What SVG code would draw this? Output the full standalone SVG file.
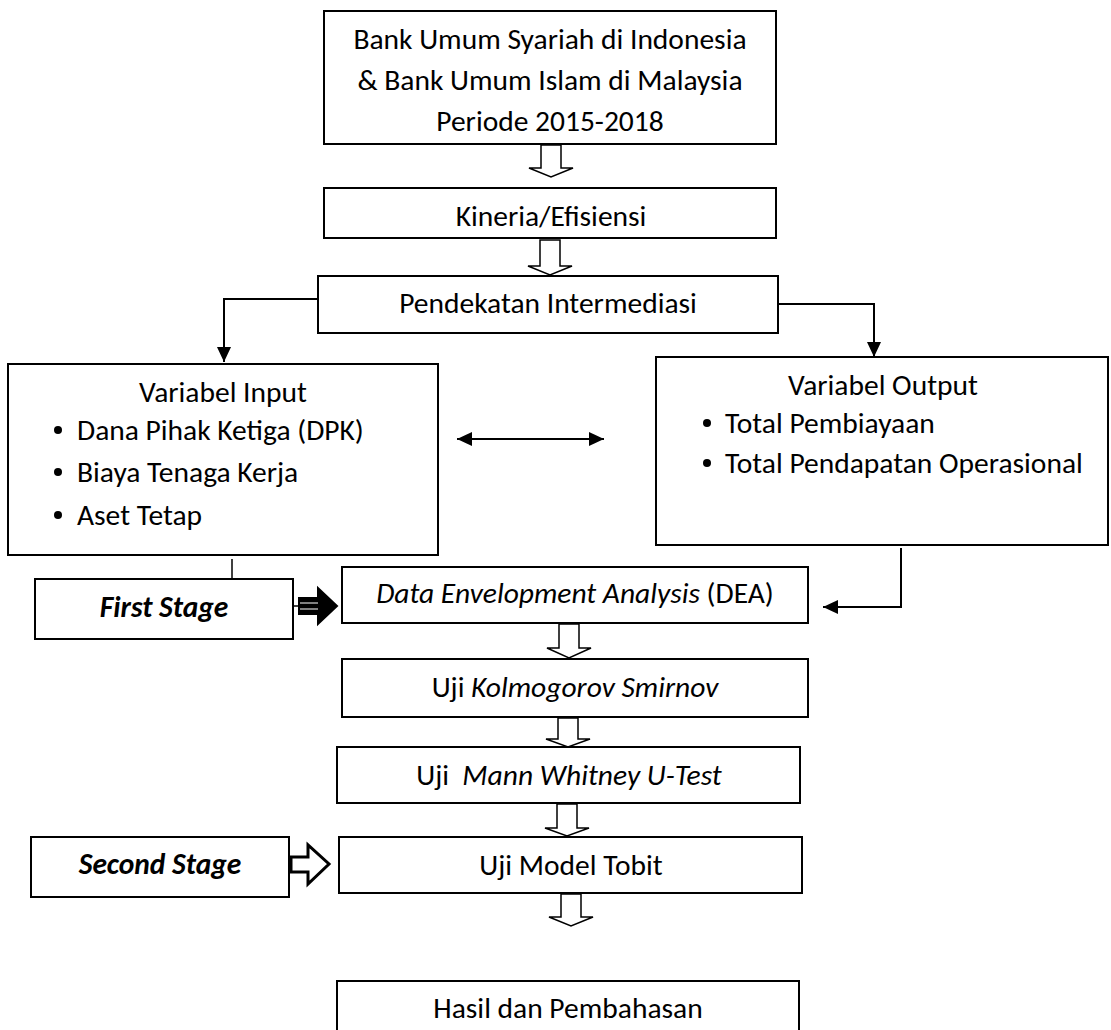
<svg xmlns="http://www.w3.org/2000/svg" width="1111" height="1030" viewBox="0 0 1111 1030">
<style>
text{font-family:Carlito,Lato,"Open Sans",sans-serif;font-size:29.5px;fill:#000}
.c{text-anchor:middle}
.bi{font-weight:bold;font-style:italic}
.i{font-style:italic}
.box{fill:#fff;stroke:#000;stroke-width:2}
.con{fill:none;stroke:#000;stroke-width:2}
.thin{fill:none;stroke:#000;stroke-width:1.5}
.ba{fill:#fff;stroke:#000;stroke-width:1.5;stroke-linejoin:miter}
</style>
<defs>
<marker id="ah" viewBox="0 0 15 14" refX="15" refY="7" markerWidth="15" markerHeight="14" markerUnits="userSpaceOnUse" orient="auto-start-reverse">
<path d="M0,0 L15,7 L0,14 Z" fill="#000"/>
</marker>
</defs>
<rect width="1111" height="1030" fill="#fff"/>

<g id="connectors">
<polygon class="ba" points="541,145 561,145 561,168 573,168 551,177 529,168 541,168"/>
<polygon class="ba" points="540,240 560,240 560,266 572,266 550,275 528,266 540,266"/>
<path class="con" d="M318,299 H224 V362" marker-end="url(#ah)"/>
<path class="con" d="M778,304 H874 V357" marker-end="url(#ah)"/>
<path class="con" d="M457,439 H604" marker-start="url(#ah)" marker-end="url(#ah)"/>
<path class="thin" d="M232,559 V579"/>
<path class="con" d="M901,548 V607 H823" marker-end="url(#ah)"/>
<path class="thin" d="M293,606 H299"/>
<polygon points="299,598 318,598 318,588 337,606 318,624 318,614 299,614" fill="#000" stroke="#000" stroke-width="2"/>
<path d="M300,603 H318 M300,609 H318" stroke="#fff" stroke-width="1"/>
<polygon class="ba" points="559,624 579,624 579,648 591,648 569,658 547,648 559,648"/>
<polygon class="ba" points="558,718 578,718 578,739 590,739 568,747 546,739 558,739"/>
<polygon class="ba" points="557,804 577,804 577,828 589,828 567,836 545,828 557,828"/>
<polygon points="291,857 308,857 308,845 329,864 308,884 308,872 291,872" fill="#fff" stroke="#000" stroke-width="3"/>
<polygon class="ba" points="561,894 581,894 581,917 593,917 571,926 549,917 561,917"/>
</g>

<g id="n-top">
<rect class="box" x="324" y="11" width="452" height="133"/>
<text class="c" x="550" y="49">Bank Umum Syariah di Indonesia</text>
<text class="c" x="550" y="90">&amp; Bank Umum Islam di Malaysia</text>
<text class="c" x="550" y="131">Periode 2015-2018</text>
</g>

<g id="n-kineria">
<rect class="box" x="324" y="188" width="452" height="50"/>
<text class="c" x="551" y="226">Kineria/Efisiensi</text>
</g>

<g id="n-pendekatan">
<rect class="box" x="318" y="276" width="460" height="57"/>
<text class="c" x="548" y="313">Pendekatan Intermediasi</text>
</g>

<g id="n-input">
<rect class="box" x="8" y="364" width="430" height="191"/>
<text class="c" x="223" y="402">Variabel Input</text>
<circle cx="58" cy="430" r="4"/>
<text x="77" y="440">Dana Pihak Ketiga (DPK)</text>
<circle cx="58" cy="472" r="4"/>
<text x="77" y="482">Biaya Tenaga Kerja</text>
<circle cx="58" cy="515" r="4"/>
<text x="77" y="525">Aset Tetap</text>
</g>

<g id="n-output">
<rect class="box" x="656" y="357" width="452" height="188"/>
<text class="c" x="883" y="395">Variabel Output</text>
<circle cx="707" cy="423" r="4"/>
<text x="725" y="433">Total Pembiayaan</text>
<circle cx="707" cy="463" r="4"/>
<text x="725" y="473">Total Pendapatan Operasional</text>
</g>

<g id="n-first">
<rect class="box" x="35" y="579" width="258" height="60"/>
<text class="c bi" x="164" y="617">First Stage</text>
</g>

<g id="n-dea">
<rect class="box" x="342" y="567" width="466" height="56"/>
<text class="c" x="575" y="603"><tspan class="i">Data Envelopment Analysis</tspan> (DEA)</text>
</g>

<g id="n-kolmogorov">
<rect class="box" x="342" y="659" width="466" height="58"/>
<text class="c" x="575" y="697">Uji <tspan class="i">Kolmogorov Smirnov</tspan></text>
</g>

<g id="n-mann">
<rect class="box" x="337" y="747" width="463" height="56"/>
<text class="c" x="569" y="785" xml:space="preserve">Uji  <tspan class="i">Mann Whitney U-Test</tspan></text>
</g>

<g id="n-second">
<rect class="box" x="31" y="837" width="258" height="60"/>
<text class="c bi" x="160" y="874">Second Stage</text>
</g>

<g id="n-tobit">
<rect class="box" x="339" y="837" width="463" height="56"/>
<text class="c" x="571" y="875">Uji Model Tobit</text>
</g>

<g id="n-hasil">
<rect class="box" x="337" y="981" width="462" height="60"/>
<text class="c" x="568" y="1018">Hasil dan Pembahasan</text>
</g>
</svg>
